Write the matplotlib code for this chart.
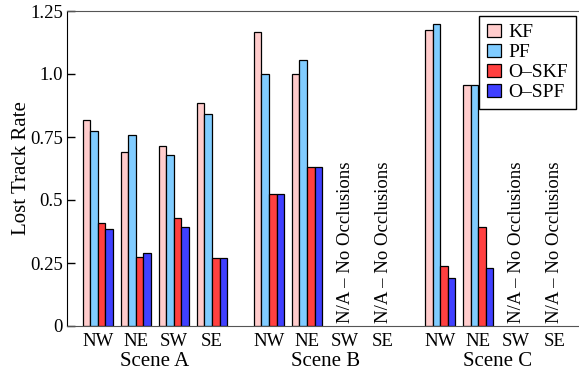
import matplotlib.pyplot as plt
import numpy as np

plt.rcParams['font.family'] = ['Liberation Serif', 'DejaVu Serif']

scenes = ["Scene A", "Scene B", "Scene C"]
regions = ["NW", "NE", "SW", "SE"]
methods = ["KF", "PF", "O\u2013SKF", "O\u2013SPF"]
colors = ["#ffcccc", "#80ccff", "#ff4040", "#4040ff"]

# rows: KF, PF, O-SKF, O-SPF; columns: A NW..SE, B NW..SE, C NW..SE (nan = no occlusions)
nan = np.nan
kf = [0.817, 0.690, 0.714, 0.885, 1.165, 1.0, nan, nan, 1.175, 0.958, nan, nan]
pf = [0.772, 0.758, 0.679, 0.841, 1.0, 1.055, nan, nan, 1.2, 0.958, nan, nan]
oskf = [0.407, 0.274, 0.427, 0.271, 0.525, 0.631, nan, nan, 0.237, 0.394, nan, nan]
ospf = [0.385, 0.291, 0.391, 0.271, 0.525, 0.631, nan, nan, 0.189, 0.229, nan, nan]
series = [kf, pf, oskf, ospf]


def main():
    fig = plt.figure(figsize=(5.79, 3.75), dpi=100)
    ax = fig.add_axes([67 / 579, 1 - 326 / 375, 1 - 67 / 579, 315 / 375])

    pos = np.array([4.5 * s + g for s in range(3) for g in range(4)], dtype=float)
    w = 0.2
    for i, (vals, c, lab) in enumerate(zip(series, colors, methods)):
        ax.bar(pos - 0.3 + i * w, vals, w, color=c, edgecolor="black",
               linewidth=0.9, label=lab)

    for p, v in zip(pos, kf):
        if np.isnan(v):
            ax.text(p, 0.012, "N/A \u2013 No Occlusions", rotation=90,
                    ha="center", va="bottom", fontsize=13.5)

    ax.set_xticks(pos)
    ax.set_xticklabels(regions * 3, fontsize=13.5)
    ax.tick_params(axis="x", length=0, pad=5)
    for s, name in enumerate(scenes):
        ax.text(1.5 + 4.5 * s, -0.112, name, ha="center", va="center",
                fontsize=15, transform=ax.get_xaxis_transform())

    ax.set_xlim(-0.81, 12.65)
    ax.set_ylim(0, 1.25)
    ax.set_yticks([0, 0.25, 0.5, 0.75, 1.0, 1.25])
    ax.set_yticklabels(["0", "0.25", "0.5", "0.75", "1.0", "1.25"], fontsize=13.5)
    ax.tick_params(axis="y", direction="in", length=6, width=1, pad=3)
    ax.set_ylabel("Lost Track Rate", fontsize=15, labelpad=-1)

    ax.spines["right"].set_visible(False)
    ax.spines["top"].set_color("#555555")
    ax.spines["bottom"].set_color("#555555")
    ax.spines["left"].set_color("black")

    leg = ax.legend(loc="upper right", fontsize=14, frameon=True, fancybox=False,
                    edgecolor="black", framealpha=1, handlelength=0.7,
                    handleheight=0.7, handletextpad=0.4, labelspacing=0.12,
                    borderaxespad=0, bbox_to_anchor=(0.994, 0.984),
                    borderpad=0.4)
    leg.get_frame().set_linewidth(1.0)

    fig.savefig("out.png", dpi=100)


if __name__ == "__main__":
    main()
